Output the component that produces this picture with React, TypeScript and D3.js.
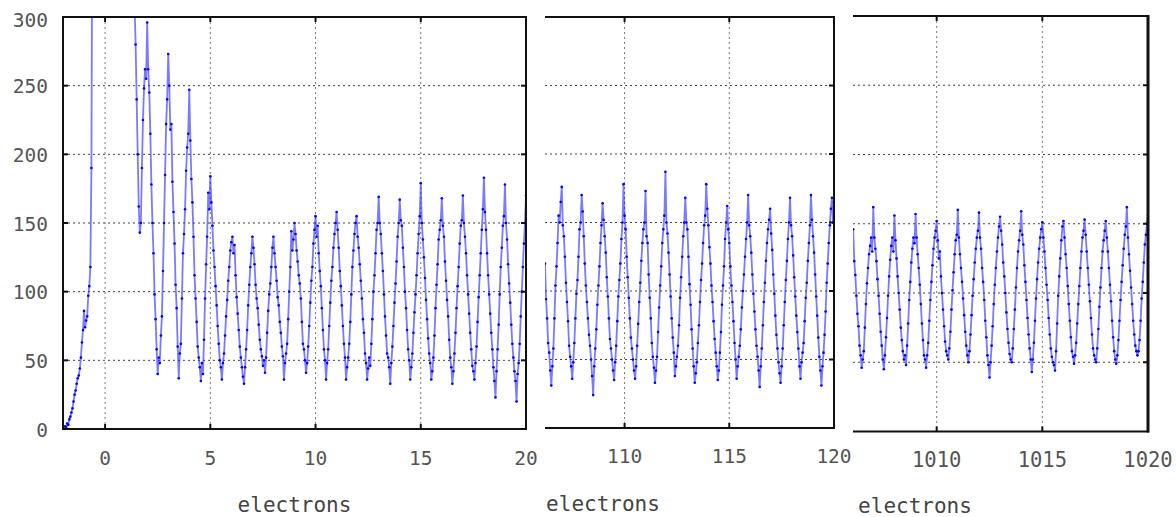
import React from "react";
import * as d3 from "d3";

// ---- data -------------------------------------------------------------
const STEP = 0.05;
const yTicks = [0, 50, 100, 150, 200, 250, 300];
const p1Ticks = [0, 5, 10, 15, 20];
const p2Ticks = [110, 115, 120];
const p3Ticks = [1010, 1015, 1020];
const xLabel = "electrons";

// panel 1: x = -2.00 .. 20.00 every 0.05
const p1Start = -2;
const p1Values = [
  1, 0, 2, 1, 4, 3, 7, 9, 12, 15, 20, 25, 28, 33, 37, 39, 44, 52, 63, 72, 86,
  74, 79, 82, 97, 104, 118, 190, 420, 650, 900, 1100, 1250, 1350, 1400, 1450, 1480, 1500, 1500, 1500, 1500,
  1480, 1460, 1420, 1380, 1320, 1250, 1180, 1100, 1020, 940, 860, 780, 700, 640, 580, 520, 470, 430, 400, 380,
  360, 345, 335, 330, 325, 320, 315, 310,
  280, 240, 200, 162, 143, 150, 190, 225, 248, 262, 255, 296,
  262, 245, 215, 178, 150, 128, 98, 80, 58, 40, 52, 48, 68, 82, 115, 150, 185, 222, 240, 273,
  250, 218, 222, 180, 158, 135, 105, 88, 60, 37, 55, 62, 95, 128, 142, 160, 188, 205, 215, 247,
  210, 182, 165, 140, 112, 95, 78, 60, 52, 45, 35, 48, 40, 65, 95, 120, 140, 172, 160, 184,
  165, 148, 130, 118, 104, 90, 75, 62, 50, 45, 36, 48, 55, 68, 82, 94, 108, 118, 130, 136,
  140, 128, 134, 112, 96, 84, 72, 60, 52, 45, 38, 33, 45, 58, 72, 90, 105, 118, 128, 140,
  132, 120, 105, 95, 88, 76, 65, 58, 53, 46, 50, 41, 52, 70, 86, 98, 106, 118, 132, 140,
  128, 118, 108, 96, 90, 78, 70, 60, 53, 36, 48, 55, 62, 80, 100, 118, 144, 130, 138, 150,
  142, 130, 122, 112, 106, 95, 78, 62, 58, 50, 41, 48, 60, 75, 92, 108, 118, 135, 145, 155,
  140, 148, 128, 115, 104, 88, 72, 58, 50, 36, 48, 58, 75, 92, 108, 118, 132, 142, 150, 158,
  145, 132, 115, 104, 90, 75, 62, 52, 36, 45, 52, 62, 78, 98, 118, 130, 142, 150, 155, 140,
  132, 120, 108, 95, 80, 70, 55, 48, 36, 44, 52, 46, 62, 80, 100, 112, 128, 145, 150, 169,
  150, 142, 128, 115, 98, 82, 68, 55, 52, 45, 33, 48, 60, 75, 92, 106, 122, 140, 150, 167,
  152, 148, 132, 118, 100, 88, 72, 58, 50, 36, 45, 55, 70, 85, 98, 112, 128, 142, 155, 179,
  150, 138, 125, 110, 94, 80, 66, 55, 48, 36, 42, 52, 68, 88, 105, 120, 138, 145, 152, 168,
  148, 140, 122, 108, 94, 82, 65, 52, 45, 33, 42, 55, 70, 88, 104, 118, 135, 148, 152, 170,
  150, 140, 128, 112, 98, 84, 70, 58, 46, 42, 36, 48, 60, 78, 96, 112, 128, 145, 160, 183,
  158, 145, 128, 112, 98, 84, 70, 58, 45, 35, 23, 42, 58, 76, 98, 118, 132, 148, 155, 178,
  150, 138, 120, 106, 92, 76, 62, 52, 42, 35, 20, 40, 48, 62, 82, 100, 118, 135, 150, 170,
];

// panel 2: x = 106.20 .. 120.00 every 0.05
const p2Start = 106.2;
const p2Values = [
  120, 94, 80, 62, 55, 42, 31, 45, 58, 80, 104, 118, 135, 155, 150, 165, 176,
  148, 140, 125, 106, 92, 78, 60, 52, 45, 36, 48, 62, 80, 98, 108, 125, 145, 150, 170, 158,
  140, 120, 104, 92, 80, 68, 60, 50, 38, 24, 45, 58, 72, 90, 104, 118, 135, 148, 164, 152,
  140, 128, 110, 96, 80, 65, 58, 50, 42, 35, 48, 60, 78, 96, 108, 120, 138, 150, 178, 155,
  145, 125, 110, 95, 80, 66, 58, 50, 42, 36, 45, 60, 76, 92, 106, 122, 135, 145, 150, 173,
  140, 135, 112, 95, 80, 62, 52, 44, 33, 42, 52, 70, 88, 104, 118, 135, 145, 155, 187, 150,
  142, 128, 112, 96, 80, 66, 55, 38, 45, 52, 60, 75, 95, 110, 125, 140, 150, 168, 150, 145,
  125, 105, 90, 72, 58, 45, 33, 40, 48, 62, 75, 92, 108, 120, 135, 148, 155, 178, 160, 148,
  132, 120, 104, 92, 78, 65, 55, 45, 35, 42, 55, 70, 90, 104, 118, 138, 150, 162, 145, 135,
  118, 104, 92, 78, 62, 50, 36, 45, 52, 60, 72, 88, 100, 112, 125, 138, 150, 170, 148, 140,
  128, 112, 98, 85, 72, 60, 52, 42, 30, 45, 58, 75, 92, 106, 122, 135, 145, 152, 160, 142,
  130, 112, 98, 82, 68, 58, 48, 40, 33, 45, 58, 75, 92, 108, 122, 138, 150, 168, 148, 140,
  126, 110, 96, 82, 70, 58, 45, 36, 48, 55, 62, 78, 95, 106, 122, 135, 148, 170, 152, 140,
  128, 112, 96, 82, 66, 52, 42, 31, 45, 55, 68, 85, 106, 120, 135, 148, 160, 168, 150, 165,
];

// panel 3: x = 1006.05 .. 1020.00 every 0.05
const p3Start = 1006.05;
const p3Values = [
  146, 123, 113, 98, 85, 76, 62, 55, 46, 52, 58, 75, 92, 107, 118, 128, 134, 140, 130, 162,
  140, 132, 123, 110, 98, 85, 72, 62, 52, 45, 55, 68, 82, 98, 112, 124, 134, 140, 130, 156,
  138, 125, 112, 100, 88, 75, 66, 58, 52, 55, 48, 62, 78, 95, 108, 122, 132, 140, 136, 157,
  140, 128, 118, 106, 92, 78, 66, 55, 52, 46, 55, 64, 80, 95, 108, 120, 132, 140, 145, 152,
  138, 125, 130, 112, 100, 88, 76, 65, 58, 55, 52, 60, 72, 88, 102, 115, 128, 138, 142, 160,
  140, 128, 118, 108, 96, 84, 72, 62, 55, 50, 58, 70, 84, 98, 110, 122, 132, 140, 145, 158,
  140, 132, 118, 108, 95, 80, 68, 55, 48, 39, 50, 62, 76, 92, 106, 118, 130, 140, 148, 155,
  145, 135, 122, 112, 100, 86, 74, 64, 56, 52, 50, 60, 74, 88, 104, 118, 130, 138, 145, 159,
  142, 135, 120, 108, 95, 82, 70, 60, 52, 43, 52, 64, 80, 96, 110, 122, 132, 140, 146, 151,
  140, 130, 118, 106, 95, 82, 70, 60, 54, 50, 48, 44, 58, 78, 98, 112, 125, 138, 148, 152,
  140, 128, 118, 105, 92, 80, 68, 58, 54, 49, 55, 64, 78, 92, 105, 118, 130, 140, 145, 153,
  142, 130, 118, 106, 94, 82, 70, 60, 55, 52, 50, 60, 74, 90, 104, 118, 130, 138, 145, 152,
  140, 130, 118, 106, 94, 80, 68, 58, 52, 49, 55, 66, 80, 95, 108, 120, 132, 142, 148, 162,
  140, 128, 116, 104, 92, 80, 70, 62, 58, 55, 58, 66, 80, 96, 108, 122, 135, 142, 150, 156,
];

// ---- layout -------------------------------------------------------------
const W = 1176;
const H = 517;
const FONT = "'DejaVu Sans Mono', monospace";
const TEXT = "#555";

type Panel = {
  id: string;
  values: number[];
  start: number;
  domain: [number, number];
  ticks: number[];
  x0: number;
  x1: number;
  yTop: number;
  yBot: number;
  left: boolean;
  yLabels: boolean;
  labelSize: number;
  labelBase: number;
  titleX: number;
  titleY: number;
  rightWidth: number;
};

const panels: Panel[] = [
  {
    id: "p1", values: p1Values, start: p1Start, domain: [-2, 20], ticks: p1Ticks,
    x0: 63, x1: 526, yTop: 17, yBot: 429, left: true, yLabels: true,
    labelSize: 19.5, labelBase: 465, titleX: 294.5, titleY: 512, rightWidth: 2,
  },
  {
    id: "p2", values: p2Values, start: p2Start, domain: [106.2, 120], ticks: p2Ticks,
    x0: 545, x1: 834, yTop: 17, yBot: 428, left: false, yLabels: false,
    labelSize: 19.5, labelBase: 463, titleX: 603, titleY: 510.5, rightWidth: 2,
  },
  {
    id: "p3", values: p3Values, start: p3Start, domain: [1006.04, 1020], ticks: p3Ticks,
    x0: 853, x1: 1148, yTop: 16, yBot: 431.5, left: false, yLabels: false,
    labelSize: 20.5, labelBase: 467, titleX: 915, titleY: 512.5, rightWidth: 3,
  },
];

function PanelView({ p }: { p: Panel }) {
  const x = d3.scaleLinear().domain(p.domain).range([p.x0, p.x1]);
  const y = d3.scaleLinear().domain([0, 300]).range([p.yBot, p.yTop]);
  const pts: [number, number][] = p.values.map((v, i) => [p.start + i * STEP, v]);
  const line = d3
    .line<[number, number]>()
    .x((d) => x(d[0]))
    .y((d) => y(d[1]));
  const clipId = `clip-${p.id}`;
  const innerY = yTicks.filter((t) => t > 0 && t < 300);
  const innerX = p.ticks.filter((t) => x(t) > p.x0 + 1 && x(t) < p.x1 - 1);
  return (
    <g>
      <defs>
        <clipPath id={clipId}>
          <rect x={p.x0} y={p.yTop} width={p.x1 - p.x0} height={p.yBot - p.yTop} />
        </clipPath>
      </defs>
      {/* grid */}
      {innerY.map((t) => (
        <line key={`gy${t}`} x1={p.x0} x2={p.x1} y1={y(t)} y2={y(t)}
          stroke="#444" strokeWidth={1} strokeDasharray="2,3" />
      ))}
      {innerX.map((t) => (
        <line key={`gx${t}`} x1={x(t)} x2={x(t)} y1={p.yTop} y2={p.yBot}
          stroke="#777" strokeWidth={1} strokeDasharray="2,3" />
      ))}
      {/* data */}
      <g clipPath={`url(#${clipId})`}>
        <path d={line(pts) ?? ""} fill="none" stroke="#2222ff" strokeOpacity={0.6}
          strokeWidth={1.8} strokeLinejoin="round" />
        {pts.map((d, i) => (
          <circle key={i} cx={x(d[0])} cy={y(d[1])} r={1.3} fill="#0000ff" />
        ))}
      </g>
      {/* frame */}
      <line x1={p.x0} x2={p.x1} y1={p.yTop} y2={p.yTop} stroke="#111" strokeWidth={2} />
      <line x1={p.x0} x2={p.x1 + 1} y1={p.yBot} y2={p.yBot} stroke="#111" strokeWidth={2} />
      <line x1={p.x1} x2={p.x1} y1={p.yTop - 1} y2={p.yBot + 1} stroke="#111" strokeWidth={p.rightWidth} />
      {p.left && (
        <line x1={p.x0} x2={p.x0} y1={p.yTop - 1} y2={p.yBot + 1} stroke="#111" strokeWidth={2} />
      )}
      {/* tick marks */}
      {innerX.map((t) => (
        <g key={`tx${t}`}>
          <line x1={x(t)} x2={x(t)} y1={p.yBot} y2={p.yBot - 5} stroke="#111" strokeWidth={2} />
          <line x1={x(t)} x2={x(t)} y1={p.yTop} y2={p.yTop + 5} stroke="#111" strokeWidth={2} />
        </g>
      ))}
      {innerY.map((t) => (
        <g key={`ty${t}`}>
          {p.left && (
            <line x1={p.x0} x2={p.x0 + 5} y1={y(t)} y2={y(t)} stroke="#111" strokeWidth={2} />
          )}
          <line x1={p.x1} x2={p.x1 - 5} y1={y(t)} y2={y(t)} stroke="#111" strokeWidth={2} />
        </g>
      ))}
      {/* tick labels */}
      {p.ticks.map((t) => (
        <text key={`lx${t}`} x={x(t)} y={p.labelBase} textAnchor="middle"
          fontFamily={FONT} fontSize={p.labelSize} fill={TEXT}>
          {t}
        </text>
      ))}
      {p.yLabels &&
        yTicks.map((t) => (
          <text key={`ly${t}`} x={48} y={Math.max(y(t) + 1, 20.5)} textAnchor="end"
            dominantBaseline="central" fontFamily={FONT} fontSize={19.5} fill={TEXT}>
            {t}
          </text>
        ))}
      <text x={p.titleX} y={p.titleY} textAnchor="middle" fontFamily={FONT}
        fontSize={21} fill="#444">
        {xLabel}
      </text>
    </g>
  );
}

export default function App() {
  return (
    <svg width={W} height={H} viewBox={`0 0 ${W} ${H}`}
      style={{ position: "absolute", left: 0, top: 0, background: "#fff" }}>
      <rect x={0} y={0} width={W} height={H} fill="#fff" />
      {panels.map((p) => (
        <PanelView key={p.id} p={p} />
      ))}
    </svg>
  );
}
